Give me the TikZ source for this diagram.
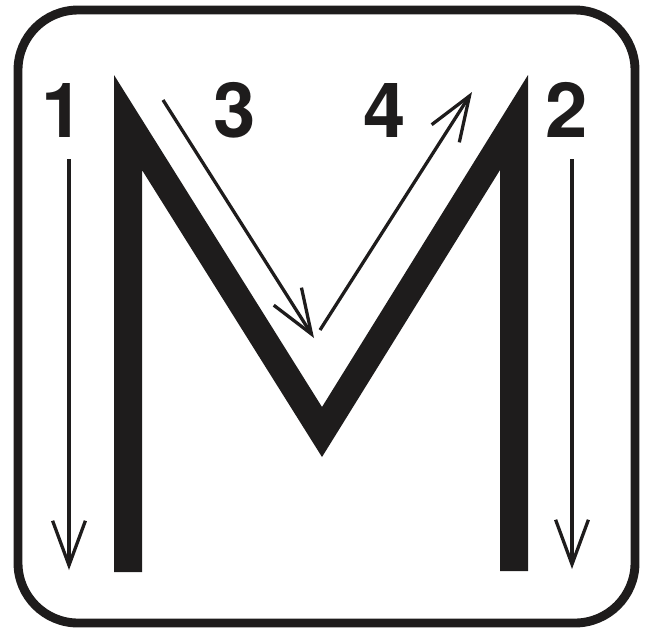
\documentclass[tikz,border=0pt]{standalone}
\usepackage{fontspec}
\usepackage{tikz}
\usetikzlibrary{arrows.meta, positioning}
\newfontfamily\digitfont{TeX Gyre Heros}
\definecolor{myink}{RGB}{30,28,28}
\tikzset{
  frame/.style={draw=myink, line width=7.6pt, rounded corners=1.8cm},
  letter/.style={fill=myink, draw=none},
  strokearrow/.style={-{Straight Barb[length=38pt, width=28pt, line width=2.8pt]},
    line width=2.8pt, color=myink},
  number/.style={inner sep=0pt, font=\digitfont\bfseries\fontsize{65}{65}\selectfont,
    text=myink}
}
\begin{document}
\begin{tikzpicture}[x=0.03cm, y=-0.03cm]
  \useasboundingbox (0,0) rectangle (648,633);
  % Frame
  \draw[frame] (18,10) rectangle (635,623);
  % Letter M
  \fill[letter] (114,75) -- (322,407) -- (528,75) -- (528,571) -- (500,571)
    -- (500,170) -- (322,457) -- (142,170) -- (142,572) -- (114,572) -- cycle;
  % Stroke order numbers
  \node[number] (n1) at (63,110) {1};
  \node[number] (n3) at (235,110) {3};
  \node[number] (n4) at (385,110) {4};
  \node[number] (n2) at (567,110) {2};
  % Arrow end points
  \coordinate (a1s) at (69,159);
  \coordinate (a1e) at (69,570);
  \coordinate (a2s) at (572,159);
  \coordinate (a2e) at (572,569);
  \coordinate (a3s) at (163,100);
  \coordinate (a3e) at (314,338);
  \coordinate (a4s) at (320,330);
  \coordinate (a4e) at (472,92);
  % Arrows
  \draw[strokearrow] (a1s) -- (a1e);
  \draw[strokearrow] (a2s) -- (a2e);
  \draw[strokearrow] (a3s) -- (a3e);
  \draw[strokearrow] (a4s) -- (a4e);
\end{tikzpicture}
\end{document}
